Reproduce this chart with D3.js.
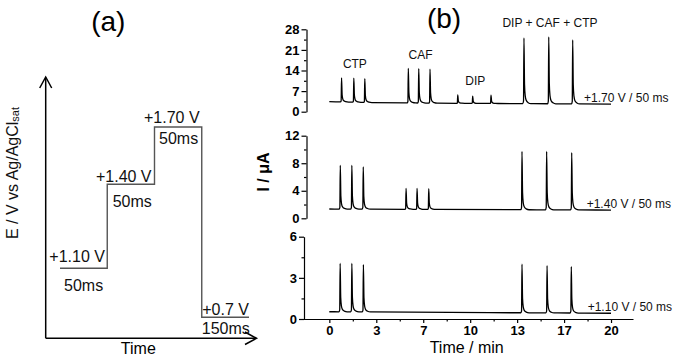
<!DOCTYPE html>
<html><head><meta charset="utf-8">
<script src="https://cdn.jsdelivr.net/npm/d3@7"></script>
<style>body{margin:0;background:#fff}svg{display:block}</style>
</head><body>
<svg id="c" width="675" height="359"></svg>
<script>
// ---------------- data ----------------
// panel (a): potential waveform
const stepLevels = [1.10, 1.40, 1.70, 0.7];
const stepLabels = ["+1.10 V", "+1.40 V", "+1.70 V", "+0.7 V"];
const stepDurations = ["50ms", "50ms", "50ms", "150ms"];

// panel (b): time axis
const timeTicks = [0, 10/3, 20/3, 10, 40/3, 50/3, 20];
const timeTickLabels = ["0", "3", "7", "10", "13", "17", "20"];
const timeMinorTicks = [5/3, 5, 25/3, 35/3, 15, 55/3];

// +1.70 V trace
const topTicks = [0, 7, 14, 21, 28];
const topBaseTimes = [0, 3, 9, 20];
const topBaseValues = [3.4, 3.1, 2.85, 2.6];
const topPeakTimes = [0.87, 1.74, 2.52, 5.61, 6.35, 7.15, 9.12, 10.18, 11.48, 13.82, 15.58, 17.28];
const topPeakValues = [11.5, 11.4, 11.2, 14.7, 14.6, 14.5, 5.7, 5.3, 5.6, 25.1, 25.4, 24.4];
const topGroups = [
  {label: "CTP", peaks: [0, 1, 2]},
  {label: "CAF", peaks: [3, 4, 5]},
  {label: "DIP", peaks: [6, 7, 8]},
  {label: "DIP + CAF + CTP", peaks: [9, 10, 11]}
];

// +1.40 V trace
const midTicks = [0, 4, 8, 12];
const midBaseTimes = [0, 20];
const midBaseValues = [1.35, 1.2];
const midPeakTimes = [0.78, 1.6, 2.41, 5.45, 6.23, 7.06, 13.68, 15.43, 17.21];
const midPeakValues = [7.7, 7.7, 7.45, 4.36, 4.36, 4.3, 9.73, 9.73, 9.53];

// +1.10 V trace
const botTicks = [0, 3, 6];
const botBaseTimes = [0, 20];
const botBaseValues = [0.53, 0.42];
const botPeakTimes = [0.77, 1.6, 2.42, 13.68, 15.46, 17.18];
const botPeakValues = [4.06, 4.06, 3.96, 3.99, 3.89, 3.81];

const traceLabels = ["+1.70 V / 50 ms", "+1.40 V / 50 ms", "+1.10 V / 50 ms"];

// ---------------- drawing ----------------
const svg = d3.select("#c");
svg.append("rect").attr("width", 675).attr("height", 359).attr("fill", "#fff");
const FONT = "Liberation Sans, Arial, sans-serif";
const TICKFONT = "'Liberation Sans Narrow', 'Arial Narrow', 'Liberation Sans', Arial, sans-serif";

// ===== panel (a) =====
const a = svg.append("g");
const axX = 45.7, axY = 338.3;
a.append("line").attr("x1", axX).attr("y1", 77.5).attr("x2", axX).attr("y2", axY)
  .attr("stroke", "#000").attr("stroke-width", 1.5);
a.append("line").attr("x1", axX).attr("y1", axY).attr("x2", 256).attr("y2", axY)
  .attr("stroke", "#000").attr("stroke-width", 1.5);
a.append("path").attr("d", `M${axX-6},${88} L${axX},${77} L${axX+6},${88}`)
  .attr("fill", "none").attr("stroke", "#000").attr("stroke-width", 1.5);
a.append("path").attr("d", `M245,332 L256.5,${axY} L245,344.5`)
  .attr("fill", "none").attr("stroke", "#000").attr("stroke-width", 1.5);

const segX = d3.scaleLinear().domain([0, stepLevels.length]).range([60, 249]);
const volY = d3.scaleLinear().domain([0.7, 1.1, 1.4, 1.7]).range([317.3, 268.3, 184.3, 127]);
const stepPts = stepLevels.map((v, i) => [i, v]).concat([[stepLevels.length, stepLevels[stepLevels.length - 1]]]);
a.append("path").datum(stepPts)
  .attr("d", d3.line().x(d => segX(d[0])).y(d => volY(d[1])).curve(d3.curveStepAfter))
  .attr("fill", "none").attr("stroke", "#555").attr("stroke-width", 1.4);

const levelLabelDx = [-10.7, -11.3, -10.5, 0.5];
const levelLabelDy = [-11.5, -8, -9.5, -7.5];
const durLabelDx = [4, 5.4, 4.5, 0];
const durLabelDy = [17, 17, 11.5, 11];
stepLevels.forEach((v, i) => {
  a.append("text").attr("x", segX(i) + levelLabelDx[i]).attr("y", volY(v) + levelLabelDy[i])
    .attr("dominant-baseline", "central").attr("font-family", FONT).attr("font-size", 16)
    .attr("fill", "#111").text(stepLabels[i]);
  a.append("text").attr("x", segX(i) + durLabelDx[i]).attr("y", volY(v) + durLabelDy[i])
    .attr("dominant-baseline", "central").attr("font-family", FONT).attr("font-size", 16)
    .attr("fill", "#111").text(stepDurations[i]);
});
const eLab = a.append("text").attr("transform", "translate(12,173) rotate(-90)")
  .attr("text-anchor", "middle").attr("dominant-baseline", "central")
  .attr("font-family", FONT).attr("font-size", 16).attr("fill", "#111");
eLab.append("tspan").text("E / V vs Ag/AgCl");
eLab.append("tspan").attr("font-size", 11).attr("dy", 3).text("sat");
a.append("text").attr("x", 138.3).attr("y", 348.3).attr("text-anchor", "middle")
  .attr("dominant-baseline", "central").attr("font-family", FONT).attr("font-size", 16).text("Time");
svg.append("text").attr("x", 108.3).attr("y", 21.7).attr("text-anchor", "middle")
  .attr("dominant-baseline", "central").attr("font-family", FONT).attr("font-size", 28).text("(a)");

// ===== panel (b) =====
svg.append("text").attr("x", 444).attr("y", 18.3).attr("text-anchor", "middle")
  .attr("dominant-baseline", "central").attr("font-family", FONT).attr("font-size", 28).text("(b)");

const profileDt = [-0.08, -0.03, 0, 0.04, 0.09, 0.16, 0.3, 0.5];
const profileFrac = [0, 0.04, 1, 0.3, 0.12, 0.05, 0.015, 0];

function tracePoints(baseT, baseV, pkT, pkV) {
  const base = d3.scaleLinear().domain(baseT).range(baseV);
  const pts = [[0, base(0)]];
  pkT.forEach((t, i) => {
    profileDt.forEach((dt, j) => {
      const tt = t + dt, b = base(tt);
      pts.push([tt, b + (pkV[i] - b) * profileFrac[j]]);
    });
  });
  pts.push([20, base(20)]);
  return pts.sort((p, q) => p[0] - q[0]);
}

const panels = [
  {ticks: topTicks, yr: [111.7, 29.3], ax: 306.5, bt: topBaseTimes, bv: topBaseValues, pt: topPeakTimes, pv: topPeakValues, lab: traceLabels[0], lx: 584, ly: 98.3},
  {ticks: midTicks, yr: [218.3, 135.7], ax: 306.5, bt: midBaseTimes, bv: midBaseValues, pt: midPeakTimes, pv: midPeakValues, lab: traceLabels[1], lx: 586.7, ly: 204.3},
  {ticks: botTicks, yr: [319, 236.7], ax: 304, bt: botBaseTimes, bv: botBaseValues, pt: botPeakTimes, pv: botPeakValues, lab: traceLabels[2], lx: 587.7, ly: 307.3}
];

const x = d3.scaleLinear().domain([0, 20]).range([329.3, 611]);

panels.forEach((p, k) => {
  const ext = p.ticks[p.ticks.length - 1];
  const y = d3.scaleLinear().domain([0, ext]).range(p.yr);
  const step = p.ticks[1] - p.ticks[0];
  const minor = p.ticks.slice(0, -1).map(t => t + step / 2);
  const g = svg.append("g").attr("transform", `translate(${p.ax},0)`);
  g.call(d3.axisLeft(y).tickValues(p.ticks).tickSize(5).tickSizeOuter(0).tickPadding(2).tickFormat(d3.format("d")));
  g.append("g").call(d3.axisLeft(y).tickValues(minor).tickSize(2.5).tickSizeOuter(0).tickFormat(""))
    .select(".domain").remove();
  g.selectAll("path, line").attr("stroke", "#000").attr("stroke-width", 1.2);
  g.selectAll("text").attr("font-family", TICKFONT).attr("font-weight", "bold")
    .attr("font-size", 13).attr("fill", "#000");

  svg.append("path").datum(tracePoints(p.bt, p.bv, p.pt, p.pv))
    .attr("d", d3.line().x(d => x(d[0])).y(d => y(d[1])).curve(d3.curveMonotoneX))
    .attr("fill", "none").attr("stroke", "#000").attr("stroke-width", 1.3);

  svg.append("text").attr("x", p.lx).attr("y", p.ly).attr("dominant-baseline", "central")
    .attr("font-family", FONT).attr("font-size", 12).attr("fill", "#111").text(p.lab);

  if (k === 0) {
    topGroups.forEach(gr => {
      const tMean = d3.mean(gr.peaks, i => topPeakTimes[i]);
      const vMax = d3.max(gr.peaks, i => topPeakValues[i]);
      svg.append("text").attr("x", x(tMean) + 1.5).attr("y", y(vMax) - 13.5)
        .attr("text-anchor", "middle").attr("dominant-baseline", "central")
        .attr("font-family", FONT).attr("font-size", 12).attr("fill", "#111").text(gr.label);
    });
  }
});

// bottom time axis
const xAxisScale = d3.scaleLinear().domain([-1.87, 21.56]).range([303, 633]);
const gx = svg.append("g").attr("transform", "translate(0,319)");
gx.call(d3.axisBottom(xAxisScale).tickValues(timeTicks).tickSize(4).tickSizeOuter(0).tickPadding(3)
  .tickFormat((d, i) => timeTickLabels[i]));
gx.append("g").call(d3.axisBottom(xAxisScale).tickValues(timeMinorTicks).tickSize(2.5).tickSizeOuter(0).tickFormat(""))
  .select(".domain").remove();
gx.selectAll("path, line").attr("stroke", "#000").attr("stroke-width", 1.2);
gx.selectAll("text").attr("font-family", TICKFONT).attr("font-weight", "bold")
  .attr("font-size", 13).attr("fill", "#000");

svg.append("text").attr("x", 466.7).attr("y", 347.7).attr("text-anchor", "middle")
  .attr("dominant-baseline", "central").attr("font-family", FONT).attr("font-size", 16).text("Time / min");
svg.append("text").attr("transform", "translate(263,172) rotate(-90)").attr("text-anchor", "middle")
  .attr("dominant-baseline", "central").attr("font-family", FONT).attr("font-weight", "bold")
  .attr("font-size", 16).text("I / \u03bcA");
</script>
</body></html>
